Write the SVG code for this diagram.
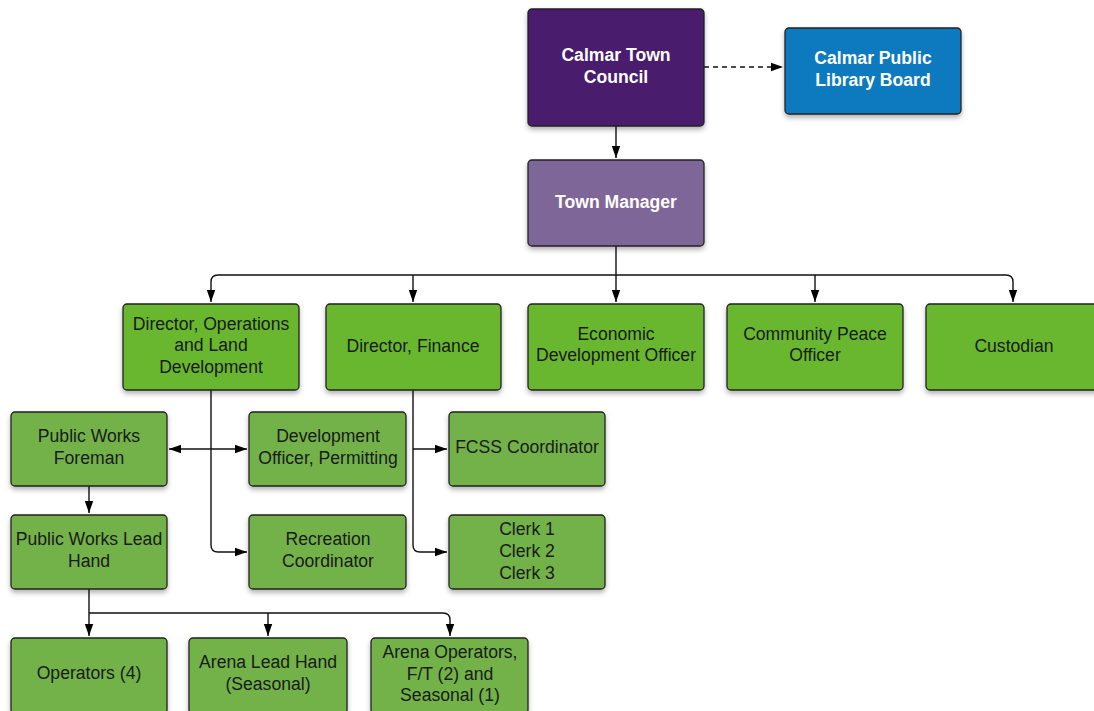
<svg xmlns="http://www.w3.org/2000/svg" width="1094" height="711" viewBox="0 0 1094 711">
<defs>
<filter id="sh" x="-10%" y="-10%" width="120%" height="130%"><feDropShadow dx="0" dy="3" stdDeviation="2.5" flood-color="#000" flood-opacity="0.3"/></filter>
<marker id="ar" viewBox="0 0 12 10" refX="12" refY="5" markerWidth="12" markerHeight="10" markerUnits="userSpaceOnUse" orient="auto"><path d="M0,0.8 L12,5 L0,9.2 z" fill="#000"/></marker>
<style>
.b{stroke:#222;stroke-width:1.3;filter:url(#sh)}
.g1{fill:#67b72f}
.g2{fill:#72b24a}
.t{font-family:"Liberation Sans",Arial,sans-serif;font-size:17.6px;fill:#1a1a1a;text-anchor:middle}
.w{font-family:"Liberation Sans",Arial,sans-serif;font-size:17.6px;font-weight:bold;fill:#fff;text-anchor:middle}
.c{fill:none;stroke:#111;stroke-width:1.4}
</style>
</defs>
<rect width="1094" height="711" fill="#fff"/>
<g id="connectors">
<path class="c" d="M704,67 H783" stroke-dasharray="5,4" marker-end="url(#ar)"/>
<path class="c" d="M616,126 V158" marker-end="url(#ar)"/>
<path class="c" d="M616,246 V302" marker-end="url(#ar)"/>
<path class="c" d="M616,275 H218 Q211,275 211,282 V302" marker-end="url(#ar)"/>
<path class="c" d="M413,275 V302" marker-end="url(#ar)"/>
<path class="c" d="M616,275 H1006 Q1013,275 1013,282 V302" marker-end="url(#ar)"/>
<path class="c" d="M815,275 V302" marker-end="url(#ar)"/>
<path class="c" d="M211,390 V545 Q211,552 218,552 H247" marker-end="url(#ar)"/>
<path class="c" d="M211,449 H169" marker-end="url(#ar)"/>
<path class="c" d="M211,449 H247" marker-end="url(#ar)"/>
<path class="c" d="M413,390 V545 Q413,552 420,552 H447" marker-end="url(#ar)"/>
<path class="c" d="M413,449 H447" marker-end="url(#ar)"/>
<path class="c" d="M89,486 V513" marker-end="url(#ar)"/>
<path class="c" d="M89,589 V636" marker-end="url(#ar)"/>
<path class="c" d="M89,613 H443 Q450,613 450,620 V636" marker-end="url(#ar)"/>
<path class="c" d="M268,613 V636" marker-end="url(#ar)"/>
</g>
<g id="council"><rect class="b" x="528" y="9" width="176" height="117" rx="4" fill="#4a1a6e"/><text class="w" x="616" y="61">Calmar Town</text><text class="w" x="616" y="83">Council</text></g>
<g id="library"><rect class="b" x="785" y="28" width="176" height="86" rx="4" fill="#0f7ac0"/><text class="w" x="873" y="64">Calmar Public</text><text class="w" x="873" y="86">Library Board</text></g>
<g id="manager"><rect class="b" x="528" y="160" width="176" height="86" rx="4" fill="#7f6699"/><text class="w" x="616" y="208">Town Manager</text></g>
<g id="dir-ops"><rect class="b g1" x="123" y="304" width="176" height="86" rx="4"/><text class="t" x="211" y="330">Director, Operations</text><text class="t" x="211" y="351">and Land</text><text class="t" x="211" y="373">Development</text></g>
<g id="dir-fin"><rect class="b g1" x="326" y="304" width="175" height="86" rx="4"/><text class="t" x="413" y="352">Director, Finance</text></g>
<g id="eco"><rect class="b g1" x="528" y="304" width="176" height="86" rx="4"/><text class="t" x="616" y="340">Economic</text><text class="t" x="616" y="361">Development Officer</text></g>
<g id="cpo"><rect class="b g1" x="727" y="304" width="176" height="86" rx="4"/><text class="t" x="815" y="340">Community Peace</text><text class="t" x="815" y="361">Officer</text></g>
<g id="custodian"><rect class="b g1" x="926" y="304" width="176" height="86" rx="4"/><text class="t" x="1014" y="352">Custodian</text></g>
<g id="pw-foreman"><rect class="b g2" x="11" y="412" width="156" height="74" rx="4"/><text class="t" x="89" y="442">Public Works</text><text class="t" x="89" y="464">Foreman</text></g>
<g id="dev-officer"><rect class="b g2" x="249" y="412" width="157" height="74" rx="4"/><text class="t" x="328" y="442">Development</text><text class="t" x="328" y="464">Officer, Permitting</text></g>
<g id="fcss"><rect class="b g2" x="449" y="412" width="156" height="74" rx="4"/><text class="t" x="527" y="453">FCSS Coordinator</text></g>
<g id="pw-lead"><rect class="b g2" x="11" y="515" width="156" height="74" rx="4"/><text class="t" x="89" y="545">Public Works Lead</text><text class="t" x="89" y="567">Hand</text></g>
<g id="recreation"><rect class="b g2" x="249" y="515" width="157" height="74" rx="4"/><text class="t" x="328" y="545">Recreation</text><text class="t" x="328" y="567">Coordinator</text></g>
<g id="clerks"><rect class="b g2" x="449" y="515" width="156" height="74" rx="4"/><text class="t" x="527" y="535">Clerk 1</text><text class="t" x="527" y="557">Clerk 2</text><text class="t" x="527" y="579">Clerk 3</text></g>
<g id="operators"><rect class="b g2" x="11" y="638" width="156" height="76" rx="4"/><text class="t" x="89" y="679">Operators (4)</text></g>
<g id="arena-lead"><rect class="b g2" x="189" y="638" width="158" height="76" rx="4"/><text class="t" x="268" y="668">Arena Lead Hand</text><text class="t" x="268" y="690">(Seasonal)</text></g>
<g id="arena-ops"><rect class="b g2" x="371" y="638" width="157" height="76" rx="4"/><text class="t" x="450" y="658">Arena Operators,</text><text class="t" x="450" y="680">F/T (2) and</text><text class="t" x="450" y="701">Seasonal (1)</text></g>
</svg>
